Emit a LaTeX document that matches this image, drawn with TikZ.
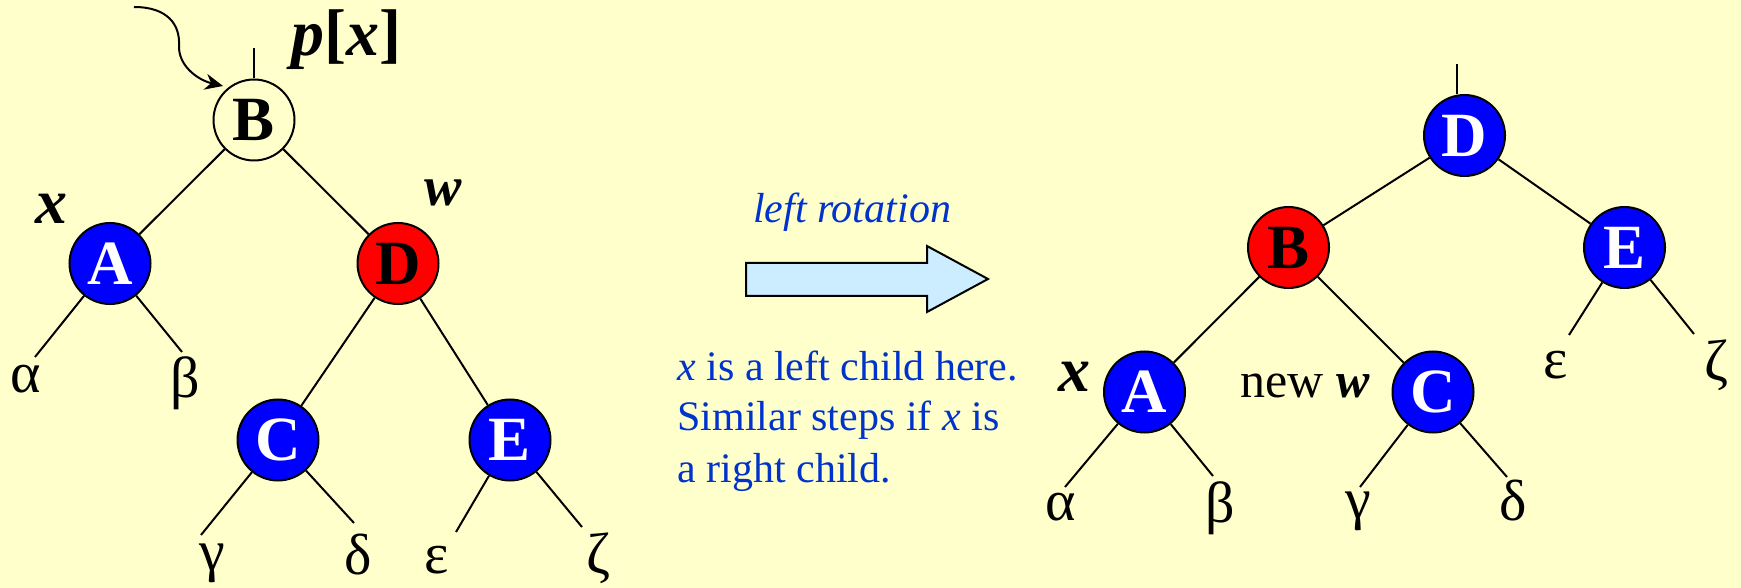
\documentclass[tikz,border=0pt]{standalone}
\usepackage{fontspec}
\setmainfont{Liberation Serif}
\usetikzlibrary{arrows.meta}
\definecolor{bg}{RGB}{255,255,204}
\definecolor{nblue}{RGB}{0,0,255}
\definecolor{nred}{RGB}{255,0,0}
\definecolor{txtblue}{RGB}{0,51,204}
\definecolor{arrfill}{RGB}{204,236,255}
\begin{document}
\begin{tikzpicture}[x=0.5pt,y=-0.5pt,
  treenode/.style={circle, draw=black, line width=1pt, minimum size=40.5pt, inner sep=0pt,
    font=\fontsize{31.5}{36}\selectfont\bfseries},
  plainnode/.style={treenode, fill=bg, text=black},
  bluenode/.style={treenode, fill=nblue, text=white},
  rednode/.style={treenode, fill=nred, text=black},
  edge/.style={line width=1pt},
  greek/.style={inner sep=0pt, font=\fontsize{29}{34}\selectfont},
  biglabel/.style={inner sep=0pt, font=\fontsize{32}{38}\selectfont\bfseries\itshape},
  note/.style={inner sep=0pt, text=txtblue, font=\fontsize{21}{25}\selectfont, anchor=base west},
]
\fill[bg] (0,0) rectangle (1741,588);
\useasboundingbox (0,0) rectangle (1741,588);

% ---------- left tree ----------
\node[plainnode] (lB) at (254,120) {B};
\node[bluenode] (lA) at (110,263.5) {A};
\node[rednode] (lD) at (398,263.5) {D};
\node[bluenode] (lC) at (278,440) {C};
\node[bluenode] (lE) at (510,440) {E};

\coordinate (lTop) at (254,48);
\draw[edge] (lTop) -- (lB.north);

\draw[edge] (lB) -- (lA);
\draw[edge] (lB) -- (lD);
\draw[edge] (lD) -- (lC);
\draw[edge] (lD) -- (lE);

\coordinate (lAa) at (35,357);
\coordinate (lAb) at (182,352);
\coordinate (lCg) at (201,535);
\coordinate (lCd) at (354,523);
\coordinate (lEe) at (456,532);
\coordinate (lEz) at (582,527);
\draw[edge] (lA) -- (lAa);
\draw[edge] (lA) -- (lAb);
\draw[edge] (lC) -- (lCg);
\draw[edge] (lC) -- (lCd);
\draw[edge] (lE) -- (lEe);
\draw[edge] (lE) -- (lEz);

\node[greek] (lal) at (26,379) {α};
\node[greek] (lbe) at (185,383) {β};
\node[greek] (lga) at (212,563) {γ};
\node[greek] (lde) at (358,555) {δ};
\node[greek] (lep) at (437,560) {ε};
\node[greek] (lze) at (599,558) {ζ};

\node[inner sep=0pt, font=\fontsize{33}{38}\selectfont\bfseries] (px) at (346,40) {\textit{p}[\textit{x}]};
\node[biglabel] (lx) at (51,209) {x};
\node[biglabel, font=\fontsize{28}{34}\selectfont\bfseries\itshape] (lw) at (443,193) {w};

\coordinate (cstart) at (134,7);
\coordinate (cend) at (223,86);
\draw[line width=1pt, -{Stealth[length=9pt,width=8pt]}] (cstart) .. controls (168,7) and (180,25) .. (179,45)
  .. controls (178,66) and (198,80) .. (cend);

% ---------- middle ----------
\node[inner sep=0pt, text=txtblue, font=\fontsize{21}{25}\selectfont\itshape, anchor=base] (lr) at (852,223) {left rotation};
\draw[line width=1pt, fill=arrfill] (746,263) -- (927,263) -- (927,246) -- (988,279) -- (927,312) -- (927,296) -- (746,296) -- cycle;
\node[note] (n1) at (677,380) {\textit{x} is a left child here.};
\node[note] (n2) at (677,430) {Similar steps if \textit{x} is};
\node[note] (n3) at (677,482) {a right child.};

% ---------- right tree ----------
\node[bluenode] (rD) at (1464.5,135.5) {D};
\node[rednode] (rB) at (1288.5,247.5) {B};
\node[bluenode] (rE) at (1624.5,247.5) {E};
\node[bluenode] (rA) at (1144.5,392) {A};
\node[bluenode] (rC) at (1433,392) {C};

\coordinate (rTop) at (1457,64);
\draw[edge] (rTop) -- (rTop |- rD.north);

\draw[edge] (rD) -- (rB);
\draw[edge] (rD) -- (rE);
\draw[edge] (rB) -- (rA);
\draw[edge] (rB) -- (rC);

\coordinate (rAa) at (1065,487);
\coordinate (rAb) at (1213,476);
\coordinate (rCg) at (1360,487);
\coordinate (rCd) at (1507,477);
\coordinate (rEe) at (1569,335);
\coordinate (rEz) at (1694,334);
\draw[edge] (rA) -- (rAa);
\draw[edge] (rA) -- (rAb);
\draw[edge] (rC) -- (rCg);
\draw[edge] (rC) -- (rCd);
\draw[edge] (rE) -- (rEe);
\draw[edge] (rE) -- (rEz);

\node[greek] (ral) at (1061,507) {α};
\node[greek] (rbe) at (1220,508) {β};
\node[greek] (rga) at (1358,511) {γ};
\node[greek] (rde) at (1513,501) {δ};
\node[greek] (rep) at (1556,365) {ε};
\node[greek] (rze) at (1716,365) {ζ};

\node[biglabel] (rx) at (1074,377) {x};
\node[inner sep=0pt, font=\fontsize{25}{30}\selectfont, anchor=base] (nw) at (1305,398) {new \textbf{\textit{w}}};
\end{tikzpicture}
\end{document}
